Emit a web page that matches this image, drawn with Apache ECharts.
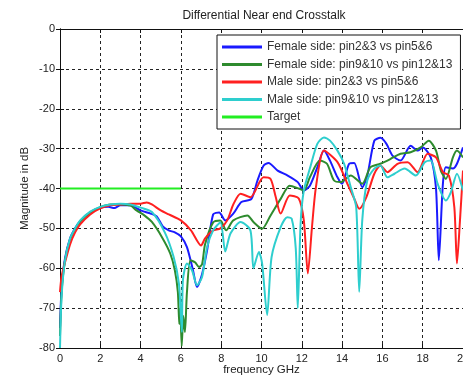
<!DOCTYPE html>
<html><head><meta charset="utf-8">
<script src="https://cdn.jsdelivr.net/npm/echarts@6/dist/echarts.min.js"></script>
<style>html,body{margin:0;padding:0;background:#fff}#c{width:463px;height:379px}</style>
</head><body><div id="c"></div>
<script>
const titleText = 'Differential Near end Crosstalk';
const xName = 'frequency GHz';
const yName = 'Magnitude in dB';
const seriesNames = ['Female side: pin2&3 vs pin5&6','Female side: pin9&10 vs pin12&13','Male side: pin2&3 vs pin5&6','Male side: pin9&10 vs pin12&13','Target'];
const xTicks = [0,2,4,6,8,10,12,14,16,18,20];
const yTicks = [0,-10,-20,-30,-40,-50,-60,-70,-80];

const femalePin23 = [[0,-75],[0.08,-65],[0.25,-57.5],[0.5,-52.5],[0.75,-50],[1,-48.2],[1.5,-46],[2,-44.8],[2.4,-44.6],[2.7,-44.9],[3,-44.2],[3.5,-44.2],[4,-45.5],[4.5,-46.3],[4.8,-47],[5.1,-49.5],[5.4,-50.5],[5.7,-51],[6.0,-52],[6.3,-54.7],[6.6,-60.5],[6.8,-64.7],[7.05,-61.5],[7.3,-55.5],[7.6,-46.5],[7.9,-46],[8.2,-48],[8.6,-46.3],[9.0,-43.4],[9.5,-42.6],[9.8,-38],[10.1,-34.3],[10.35,-33.6],[10.8,-35.5],[11.3,-36.75],[11.8,-38.4],[12.1,-40.5],[12.4,-39.3],[12.77,-34.7],[13.1,-30.5],[13.4,-33],[13.77,-37.2],[14.0,-38.8],[14.35,-33.8],[14.6,-33.6],[15.0,-39.7],[15.25,-36.8],[15.6,-28],[15.9,-27.3],[16.2,-28.8],[16.5,-31.75],[16.9,-33],[17.4,-29.3],[17.75,-30.5],[18.0,-29.7],[18.4,-32.2],[18.66,-40],[18.8,-58],[19.0,-39],[19.15,-34.7],[19.5,-35],[19.7,-33.8],[20,-29.7]];
const femalePin910 = [[0,-77],[0.08,-66],[0.25,-58],[0.5,-52.8],[0.75,-50.2],[1,-48.3],[1.5,-46],[2,-44.7],[2.5,-44],[3,-44],[3.5,-44.3],[3.8,-45.5],[4.2,-46.8],[4.56,-48.4],[5.06,-52.2],[5.47,-56.3],[5.7,-60.5],[5.85,-66],[5.92,-74],[5.97,-70],[6.04,-79.5],[6.12,-72],[6.2,-76],[6.3,-66],[6.47,-58],[6.7,-58.5],[6.9,-59.7],[7.05,-59],[7.2,-54],[7.6,-48.5],[7.96,-48],[8.25,-50.5],[8.6,-48],[9.3,-46.75],[9.6,-48.4],[10.03,-50.1],[10.45,-46.75],[10.95,-42.6],[11.4,-39.3],[11.85,-40],[12.1,-40.5],[12.4,-37.2],[12.9,-33],[13.25,-33.8],[13.6,-38],[13.93,-38.4],[14.43,-36.75],[15.0,-38.8],[15.4,-34.7],[15.9,-33.8],[16.4,-32.6],[16.9,-31.3],[17.4,-30.9],[17.9,-29.7],[18.3,-28],[18.66,-30.5],[18.9,-35.5],[19.15,-37.6],[19.5,-32.2],[19.7,-30.5],[20,-32.2]];
const malePin23 = [[0,-66],[0.08,-62],[0.25,-58.5],[0.5,-54],[0.75,-51],[1,-49],[1.5,-46.5],[2,-45],[2.5,-44.2],[3,-44],[3.5,-43.8],[4,-43.8],[4.3,-43.5],[4.56,-44],[5,-45.5],[5.4,-46.5],[6,-48],[6.5,-50.5],[7,-54.3],[7.2,-52.5],[7.6,-50.5],[7.96,-50],[8.3,-48],[8.6,-44],[8.96,-41.3],[9.45,-42.2],[10.1,-37.2],[10.45,-37.6],[10.7,-42],[10.95,-46.3],[11.4,-41.75],[11.85,-42.5],[12.1,-48],[12.3,-61.3],[12.5,-50],[12.7,-39.7],[13.1,-30.5],[13.77,-33.4],[14.26,-38.8],[14.6,-42.5],[14.85,-45.1],[15.2,-42.2],[15.6,-36.3],[15.9,-34.25],[16.25,-35.9],[16.75,-33.8],[17.25,-33.4],[17.75,-35.9],[18.24,-31.3],[18.66,-32.2],[19.0,-35.9],[19.3,-36.75],[19.57,-44.7],[19.7,-58.8],[19.85,-48],[20,-35.5]];
const malePin910 = [[0,-80],[0.08,-67],[0.25,-58],[0.5,-52.5],[0.75,-50],[1,-48],[1.5,-45.8],[2,-44.6],[2.5,-44],[3,-43.8],[3.5,-44],[4,-44.8],[4.56,-45.9],[5.2,-51],[5.64,-57.2],[5.9,-63.8],[6.0,-72],[6.05,-76],[6.1,-63],[6.3,-58.8],[6.55,-60.5],[6.8,-64.25],[7.05,-62.2],[7.3,-54.7],[7.6,-50.5],[7.96,-48.5],[8.2,-55.8],[8.46,-51.3],[8.96,-48.4],[9.45,-50.5],[9.6,-60],[9.87,-55.9],[10.03,-58.8],[10.28,-71.75],[10.5,-57.2],[10.95,-49.7],[11.28,-47.2],[11.5,-47.6],[11.7,-55],[11.8,-70],[11.94,-48.8],[12.1,-40.5],[12.4,-35],[12.77,-28.8],[13.1,-27.2],[13.4,-28],[13.77,-30.5],[14.1,-33.8],[14.43,-39.7],[14.7,-44.7],[14.85,-65.9],[15.0,-48],[15.25,-38],[15.6,-35],[15.9,-34.25],[16.25,-37.2],[16.6,-36.3],[17.1,-35],[17.66,-36.75],[18.1,-33.4],[18.4,-33],[18.74,-38.8],[19.15,-43],[19.4,-40.9],[19.7,-36.3],[20,-40.5]];
const target = [[0,-40],[6,-40]];

const colors = ['#1a1aff','#2e8b2e','#ff2020','#2ecece','#22ee22'];
const dataSets = [femalePin23, femalePin910, malePin23, malePin910, target];

const font = 'Liberation Sans, Arial, sans-serif';
const chart = echarts.init(document.getElementById('c'), null, {renderer:'canvas'});
const gridLine = {show:true, lineStyle:{color:'#222', type:[3,3], width:1}};
chart.setOption({
  animation:false,
  backgroundColor:'#fff',
  title:{text:titleText, left:259, top:5, textAlign:'center', textStyle:{fontFamily:font, fontSize:12, fontWeight:'normal', color:'#222'}},
  legend:{
    orient:'vertical', left:217, top:35, width:242,
    data:seriesNames, icon:'rect', itemWidth:40, itemHeight:3, itemGap:5.5,
    backgroundColor:'#fff', borderColor:'#111', borderWidth:1, padding:[6,8,6,5],
    textStyle:{fontFamily:font, fontSize:12, color:'#333'}
  },
  grid:{left:60, right:0, top:29, bottom:31, outerBoundsMode:'none', containLabel:false},
  xAxis:[{
    type:'value', min:0, max:20, interval:2,
    name:xName, nameLocation:'middle', nameGap:16, nameMoveOverlap:false,
    nameTextStyle:{fontFamily:font, fontSize:11.5, color:'#222'},
    axisLine:{onZero:false, lineStyle:{color:'#111'}},
    axisTick:{inside:true, length:4, lineStyle:{color:'#111'}},
    axisLabel:{fontFamily:font, fontSize:11, color:'#222', margin:5},
    splitLine:gridLine
  },{
    type:'value', min:0, max:20, interval:2, position:'top',
    axisLine:{lineStyle:{color:'#111'}},
    axisTick:{inside:true, length:4, lineStyle:{color:'#111'}},
    axisLabel:{show:false}, splitLine:{show:false}
  }],
  yAxis:[{
    type:'value', min:-80, max:0, interval:10,
    name:yName, nameLocation:'middle', nameGap:29, nameRotate:90, nameMoveOverlap:false,
    nameTextStyle:{fontFamily:font, fontSize:11.5, color:'#222'},
    axisLine:{onZero:false, lineStyle:{color:'#111'}},
    axisTick:{inside:true, length:4, lineStyle:{color:'#111'}},
    axisLabel:{fontFamily:font, fontSize:11, color:'#222', margin:5},
    splitLine:gridLine
  },{
    type:'value', min:-80, max:0, interval:10, position:'right',
    axisLine:{lineStyle:{color:'#111'}},
    axisTick:{inside:true, length:4}, axisLabel:{show:false}, splitLine:{show:false}
  }],
  series: seriesNames.map((n,i)=>({
    name:n, type:'line', data:dataSets[i], showSymbol:false, symbol:'none',
    smooth:0.25, color:colors[i],
    lineStyle:{width:2, color:colors[i]}, z: i===4 ? 5 : 2+i
  }))
});
</script></body></html>
